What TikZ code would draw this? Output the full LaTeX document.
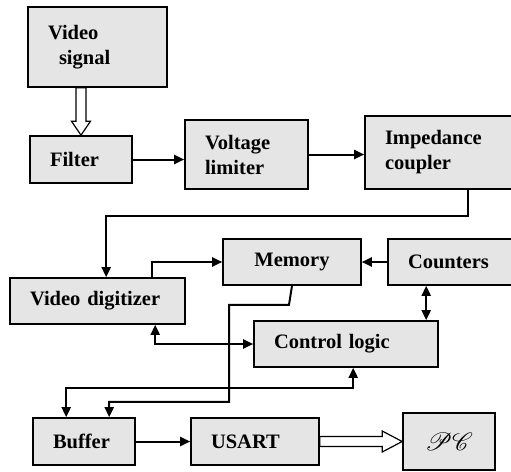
\documentclass[tikz,border=0pt]{standalone}
\usepackage{fontspec}
\setmainfont{Liberation Serif}
\usepackage{mathrsfs}
\usetikzlibrary{arrows.meta,calc}
\begin{document}
\begin{tikzpicture}[x=1pt,y=-1pt,
  box/.style={draw, line width=1.6pt, fill=black!10, inner xsep=20pt, inner ysep=0pt,
    align=left, font=\bfseries\fontsize{20.5}{25}\selectfont},
  conn/.style={line width=2pt, -{Triangle[length=10pt,width=9pt]}},
  bconn/.style={line width=2pt, {Triangle[length=10pt,width=9pt]}-{Triangle[length=10pt,width=9pt]}},
  hollow/.style={draw, fill=white, line width=1.2pt, line join=miter}]
\useasboundingbox (0,0) rectangle (511,471);
\node[box, minimum width=139pt, text width=99pt, minimum height=80pt] (vsig) at (97.5,47) {Video\\\hspace*{11pt}signal};
\node[box, minimum width=102pt, text width=62pt, minimum height=47pt] (filter) at (81,159.5) {Filter};
\node[box, minimum width=123pt, text width=83pt, minimum height=69pt] (vlim) at (246.5,154.5) {Voltage\\limiter};
\node[box, minimum width=151pt, text width=111pt, minimum height=73pt] (imp) at (440.5,152.5) {Impedance\\coupler};
\node[box, minimum width=175pt, text width=135pt, minimum height=46pt] (vdig) at (97.5,301) {Video digitizer};
\node[box, minimum width=138pt, text width=98pt, minimum height=46pt, align=center] (mem) at (292,262) {Memory};
\node[box, minimum width=128pt, text width=88pt, minimum height=46pt] (cnt) at (452,262) {Counters};
\node[box, minimum width=184pt, text width=144pt, minimum height=46pt] (ctl) at (346,344) {Control logic};
\node[box, minimum width=102pt, text width=62pt, minimum height=47pt] (buf) at (84,441.5) {Buffer};
\node[box, minimum width=128pt, text width=88pt, minimum height=47pt] (usart) at (255,441.5) {USART};
\node[box, minimum width=92pt, text width=72pt, inner xsep=10pt, minimum height=57pt, align=center, font=\fontsize{34}{36}\selectfont] (pc) at (449,441.5) {$\mathscr{PC}$};

% hollow arrows
\draw[hollow] (filter.north) -- ++(-9.5,-14) -- ++(4.5,0) -- ($(filter.north |- vsig.south)+(-5,0)$) -- ++(10,0) -- ($(filter.north)+(5,-14)$) -- ++(4.5,0) -- cycle;
\draw[hollow] (pc.west) -- ++(-20,-10.5) -- ++(0,5.5) -- ($(usart.east)+(0,-5)$) -- ++(0,10) -- ($(pc.west)+(-20,5)$) -- ++(0,5.5) -- cycle;

% connector end points
\coordinate (impout) at ($(imp.south west)+(104,0)$);
\coordinate (vdigin) at ($(vdig.north west)+(97,0)$);
\coordinate (vdigout) at ($(vdig.north west)+(143,0)$);
\coordinate (cntio) at ($(cnt.south west)+(39,0)$);
\coordinate (vdigio) at ($(vdig.south west)+(146,0)$);
\coordinate (bufin) at ($(buf.north west)+(77,0)$);
\coordinate (bufio) at ($(buf.north west)+(34,0)$);
\coordinate (ctlio) at ($(ctl.south west)+(100,0)$);

% connectors
\draw[conn] (filter.east) -- (filter.east -| vlim.west);
\draw[conn] (vlim.east) -- (vlim.east -| imp.west);
\draw[conn] (impout) -- ++(0,26) -| (vdigin);
\draw[conn] (vdigout) |- (mem.west);
\draw[conn] (cnt.west) -- (mem.east);
\draw[bconn] (cntio) -- (cntio |- ctl.north);
\draw[bconn] (vdigio) |- (ctl.west);
\draw[conn] (mem.south) -- ++(-3,19) -- ++(-60,0) -- ++(0,97) -| (bufin);
\draw[bconn] (bufio) |- ($(ctlio)+(0,20)$) -- (ctlio);
\draw[conn] (buf.east) -- (usart.west);
\end{tikzpicture}
\end{document}
